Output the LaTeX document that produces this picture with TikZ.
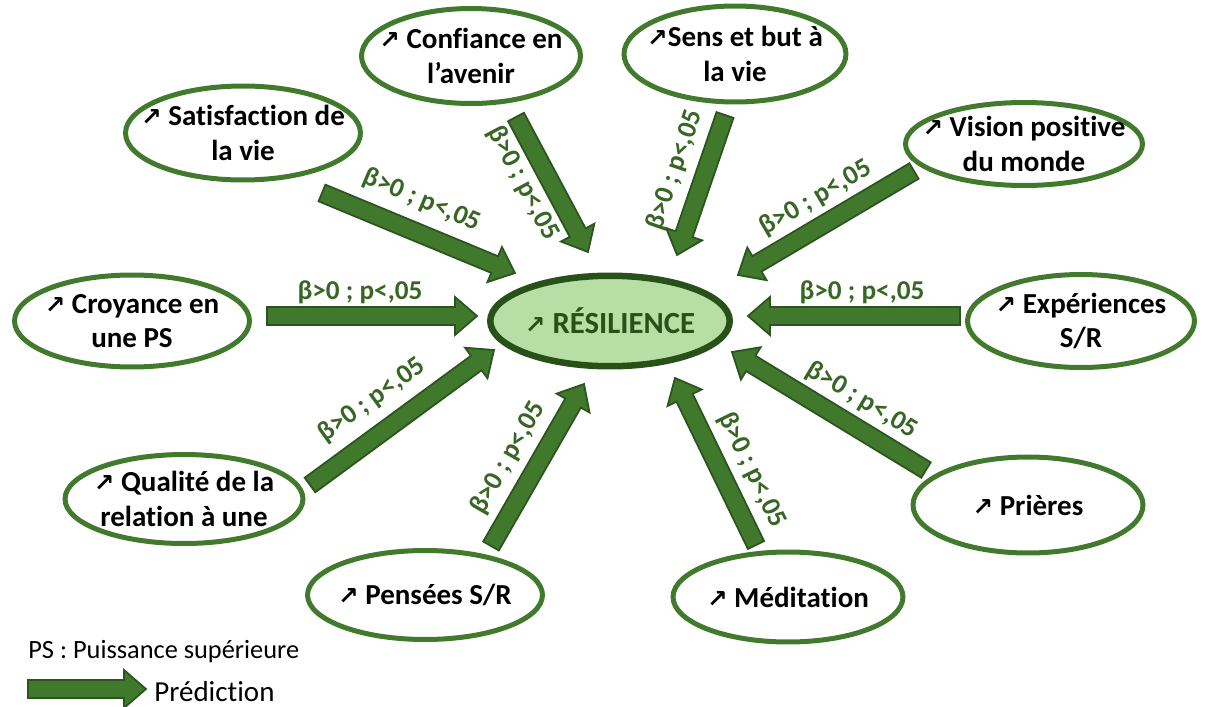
\documentclass[tikz,border=0pt]{standalone}
\usepackage{fontspec}
\setmainfont{Carlito}[Ligatures=CommonOff]
\newfontfamily\flfont{DejaVu Sans}
\usetikzlibrary{calc,shapes.geometric}
\definecolor{cadregreen}{RGB}{66,122,45}
\definecolor{flechegreen}{RGB}{64,120,44}
\definecolor{flechedark}{RGB}{44,84,30}
\definecolor{centrefill}{RGB}{182,222,165}
\definecolor{centredark}{RGB}{40,80,25}
\definecolor{coefgreen}{RGB}{56,102,36}
\newcommand\hausse{{\flfont\fontsize{14}{14}\selectfont ↗}}
\newcommand\fleche[2]{%
  \coordinate (hb) at ($(#2)!0.44cm!(#1)$);
  \filldraw[fleche] ($(#1)!0.18cm!90:(#2)$) -- ($(hb)!0.18cm!90:(#2)$) -- ($(hb)!0.38cm!90:(#2)$)
    -- (#2) -- ($(hb)!0.38cm!-90:(#2)$) -- ($(hb)!0.18cm!-90:(#2)$) -- ($(#1)!0.18cm!-90:(#2)$) -- cycle;}
\tikzset{
  facteur/.style={ellipse, draw=cadregreen, line width=0.1cm, inner xsep=-1.2cm, inner ysep=-0.4cm, align=center,
    font=\fontsize{16.5}{19.5}\selectfont\bfseries},
  centre/.style={facteur, draw=centredark, fill=centrefill, line width=0.13cm, text=centredark,
    font=\fontsize{17.5}{20}\selectfont\bfseries},
  coef/.style={text=coefgreen, inner sep=0pt, font=\fontsize{15.5}{18}\selectfont\bfseries},
  fleche/.style={fill=flechegreen, draw=flechedark, line width=1pt, line join=miter}
}
\begin{document}
\begin{tikzpicture}[x=0.02cm,y=-0.02cm]
  \useasboundingbox (0,0) rectangle (1208,707);
  % centre
  \node[centre, minimum width=4.79cm, minimum height=1.81cm] (res) at (610,321) {\hausse\ RÉSILIENCE};
  % facteurs
  \node[facteur, minimum width=4.7cm, minimum height=1.88cm] (sat) at (243,133) {\hausse\ Satisfaction de\\la vie};
  \node[facteur, minimum width=4.38cm, minimum height=1.9cm] (conf) at (471,56) {\hausse\ Confiance en\\l’avenir};
  \node[facteur, minimum width=4.44cm, minimum height=1.92cm] (sens) at (735,54) {\hausse Sens et but à\\la vie};
  \node[facteur, minimum width=4.74cm, minimum height=1.66cm] (vis) at (1024,144) {\hausse\ Vision positive\\du monde};
  \node[facteur, minimum width=4.7cm, minimum height=1.84cm] (croy) at (132,321) {\hausse\ Croyance en\\une PS};
  \node[facteur, minimum width=4.54cm, minimum height=1.86cm] (exp) at (1081,321) {\hausse\ Expériences\\S/R};
  \node[facteur, minimum width=4.76cm, minimum height=1.78cm] (qual) at (184,499) {\hausse\ Qualité de la\\relation à une};
  \node[facteur, minimum width=4.6cm, minimum height=1.92cm] (pri) at (1028,505) {\hausse\ Prières};
  \node[facteur, minimum width=4.7cm, minimum height=1.78cm] (pens) at (425,595) {\hausse\ Pensées S/R};
  \node[facteur, minimum width=4.6cm, minimum height=1.8cm] (med) at (788,597) {\hausse\ Méditation};
  % fleches
  \coordinate (dsat) at (322,193);  \coordinate (asat) at (515,273);
  \coordinate (dconf) at (516,117); \coordinate (aconf) at (588,252);
  \coordinate (dsens) at (725,115); \coordinate (asens) at (677,255);
  \coordinate (dvis) at (914,171);  \coordinate (avis) at (738,275);
  \coordinate (dcroy) at (267,316); \coordinate (acroy) at (477,316);
  \coordinate (dexp) at (960,316);  \coordinate (aexp) at (748,316);
  \coordinate (dqual) at (310,485); \coordinate (aqual) at (494,350);
  \coordinate (dpens) at (491,546); \coordinate (apens) at (584,384);
  \coordinate (dmed) at (756,545);  \coordinate (amed) at (675,378);
  \coordinate (dpri) at (926,470);  \coordinate (apri) at (732,352);
  \foreach \d/\a in {dsat/asat,dconf/aconf,dsens/asens,dvis/avis,dcroy/acroy,dexp/aexp,dqual/aqual,dpens/apens,dmed/amed,dpri/apri}
    \fleche{\d}{\a};
  % coefficients
  \node[coef, rotate=-23] (csat) at (422,200) {β>0 ; p<,05};
  \node[coef, rotate=-62] (cconf) at (523,183) {β>0 ; p<,05};
  \node[coef, rotate=71] (csens) at (675,170) {β>0 ; p<,05};
  \node[coef, rotate=30.5] (cvis) at (816,198) {β>0 ; p<,05};
  \node[coef] (ccroy) at (360,292) {β>0 ; p<,05};
  \node[coef] (cexp) at (862,292) {β>0 ; p<,05};
  \node[coef, rotate=36] (cqual) at (372,400) {β>0 ; p<,05};
  \node[coef, rotate=60] (cpens) at (508,458) {β>0 ; p<,05};
  \node[coef, rotate=-64] (cmed) at (752,470) {β>0 ; p<,05};
  \node[coef, rotate=-31] (cpri) at (862,400) {β>0 ; p<,05};
  % legende
  \node[anchor=west, inner sep=0pt, font=\fontsize{15}{18}\selectfont] (ps) at (28,652) {PS : Puissance supérieure};
  \coordinate (dleg) at (28,689); \coordinate (aleg) at (146,689);
  \fleche{dleg}{aleg}
  \node[anchor=west, inner sep=0pt, font=\fontsize{16.5}{18}\selectfont] (pred) at (154,692) {Prédiction};
\end{tikzpicture}
\end{document}
